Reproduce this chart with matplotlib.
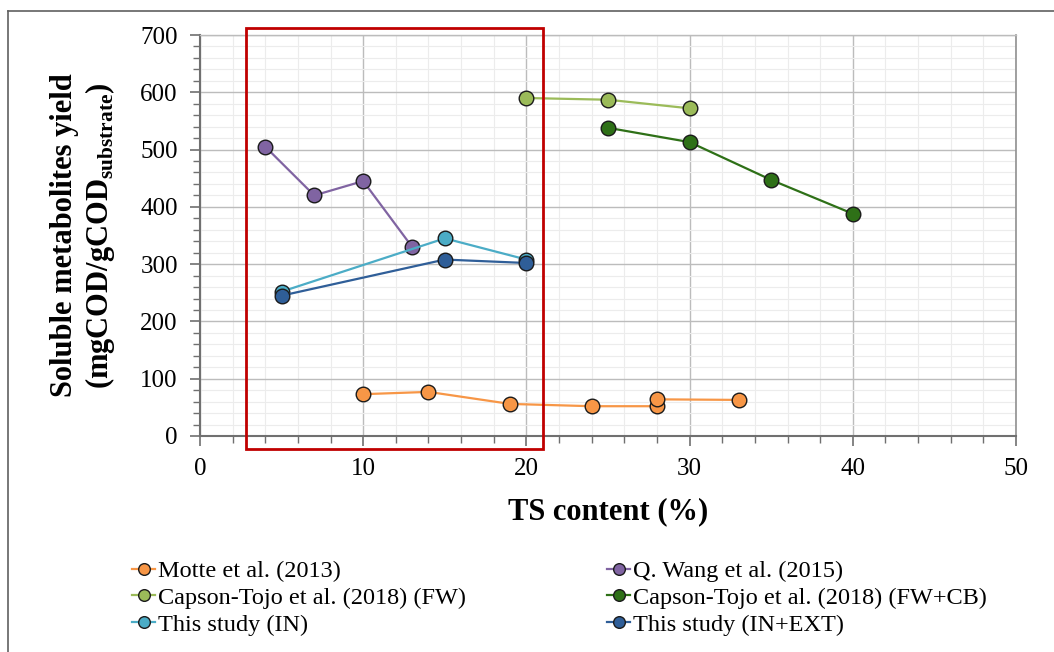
import numpy as np
import matplotlib.pyplot as plt
from matplotlib.patches import Rectangle
from matplotlib.lines import Line2D
from matplotlib.ticker import MultipleLocator

plt.rcParams['font.family'] = ['Liberation Serif', 'DejaVu Serif']
plt.rcParams['mathtext.fontset'] = 'custom'
plt.rcParams['mathtext.rm'] = 'Liberation Serif'
plt.rcParams['mathtext.bf'] = 'Liberation Serif:bold'

# --- data ---
motte_x = [10, 14, 19, 24, 28, 28, 33]
motte_y = [73, 77, 56, 52, 52, 64, 63]

wang_x = [4, 7, 10, 13]
wang_y = [505, 420, 445, 330]

fw_x = [20, 25, 30]
fw_y = [590, 587, 572]

fwcb_x = [25, 30, 35, 40]
fwcb_y = [538, 513, 447, 388]

in_x = [5, 15, 20]
in_y = [252, 345, 308]

inext_x = [5, 15, 20]
inext_y = [245, 308, 302]

labels = ["Motte et al. (2013)", "Q. Wang et al. (2015)",
          "Capson-Tojo et al. (2018) (FW)", "Capson-Tojo et al. (2018) (FW+CB)",
          "This study (IN)", "This study (IN+EXT)"]
colors = ["#F79646", "#8064A2", "#9BBB59", "#2E7017", "#4BACC6", "#2F5E98"]

fig = plt.figure(figsize=(10.54, 6.52), dpi=100)
ax = fig.add_axes([200 / 1054, 1 - 436 / 652, 816 / 1054, 401 / 652])

series = [(motte_x, motte_y), (wang_x, wang_y), (fw_x, fw_y),
          (fwcb_x, fwcb_y), (in_x, in_y), (inext_x, inext_y)]
handles = []
for (xs, ys), lab, c in zip(series, labels, colors):
    h, = ax.plot(xs, ys, '-o', color=c, lw=1.6, ms=10.5, mfc=c, mec='#1a1a1a',
                 mew=1.0, label=lab, zorder=3)
    handles.append(h)

ax.set_xlim(0, 50)
ax.set_ylim(0, 700)
ax.xaxis.set_major_locator(MultipleLocator(10))
ax.xaxis.set_minor_locator(MultipleLocator(2))
ax.yaxis.set_major_locator(MultipleLocator(100))
ax.yaxis.set_minor_locator(MultipleLocator(20))
ax.grid(True, which='major', color='#bcbcbc', lw=1.0, zorder=0)
ax.grid(True, which='minor', color='#ececec', lw=0.8, zorder=0)
ax.set_axisbelow(True)

ax.spines['top'].set_color('#bcbcbc')
ax.spines['top'].set_linewidth(1.0)
ax.spines['right'].set_color('#909090')
ax.spines['right'].set_linewidth(1.2)
for s in ['left', 'bottom']:
    ax.spines[s].set_color('#707070')
    ax.spines[s].set_linewidth(1.5)

ax.tick_params(which='major', direction='out', length=7, width=1.2, color='#707070',
               labelsize=18, pad=9)
ax.tick_params(which='minor', direction='out', length=5, width=1.0, color='#707070')

ax.set_xlabel("TS content (%)", fontsize=22, fontweight='bold', labelpad=12)
ax.set_ylabel("Soluble metabolites yield\n(mgCOD/gCOD$_{\\mathbf{substrate}}$)",
              fontsize=22, fontweight='bold', linespacing=1.15)
ax.yaxis.set_label_coords(-0.102, 0.5)

# red highlight box
rect = Rectangle((2.8, -23), 18.2, 735, fill=False, edgecolor='#C00000',
                 lw=2.0, clip_on=False, zorder=4)
ax.add_patch(rect)

order = [0, 2, 4, 1, 3, 5]
fig.legend([handles[i] for i in order], [labels[i] for i in order],
           loc='upper left', bbox_to_anchor=(115 / 1054, 1 - 543 / 652),
           ncol=2, frameon=False, fontsize=17.5, handlelength=0.95,
           handletextpad=0.12, labelspacing=0.2, columnspacing=5.8,
           borderpad=0.2, markerscale=0.8)

# figure border (left and top)
fig.add_artist(Line2D([8 / 1054, 8 / 1054], [0, 1 - 11 / 652], color='#606060', lw=1.2))
fig.add_artist(Line2D([8 / 1054, 1], [1 - 11 / 652, 1 - 11 / 652], color='#606060', lw=1.2))

fig.savefig("out.png", dpi=100)
